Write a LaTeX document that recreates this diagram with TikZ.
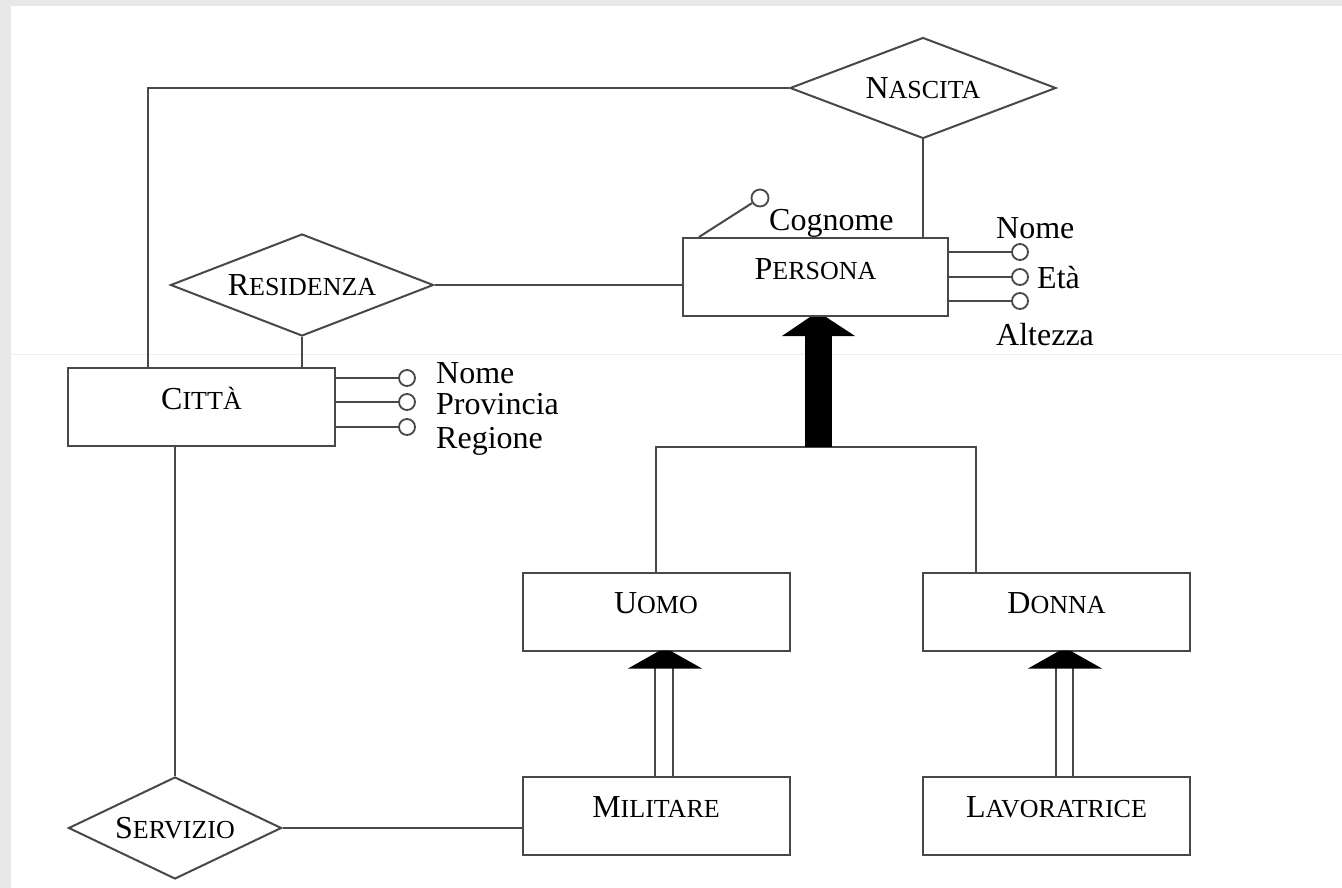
\documentclass[tikz,border=0pt]{standalone}
\usepackage{fontspec}
\setmainfont{Liberation Serif}
\usetikzlibrary{shapes.geometric,calc}
\definecolor{lc}{RGB}{72,72,72}
\definecolor{bggray}{RGB}{232,232,232}
\definecolor{seam}{RGB}{238,238,238}
\newcommand\fs{\fontsize{32}{36}\selectfont}
\newcommand\mysc[2]{{\fontsize{32}{32}\selectfont #1\fontsize{26}{26}\selectfont #2}}
\tikzset{
  ln/.style={draw=lc, line width=2pt},
  ent/.style={rectangle, draw=lc, line width=2pt, minimum width=267pt, minimum height=78pt,
              inner sep=0pt, text height=12pt, text depth=8pt, font=\fs},
  rel/.style={diamond, draw=lc, line width=2pt, aspect=2.6, inner sep=0pt, font=\fs},
  att/.style={circle, draw=lc, line width=1.8pt, minimum size=16pt, inner sep=0pt, fill=white},
  lbl/.style={inner sep=0pt, anchor=base west, font=\fs},
  isahead/.style={fill=black, draw=none},
}
\begin{document}
\begin{tikzpicture}[x=1pt, y=-1pt]
\useasboundingbox (0,0) rectangle (1342,888);
\fill[bggray] (0,0) rectangle (1342,888);
\fill[white] (11,6) rectangle (1342,888);
\draw[seam, line width=1pt] (11,354) -- (1342,354);

% entities
\node[ent] (citta) at (201.5,407) {\mysc{C}{ITTÀ}};
\node[ent, minimum width=265pt] (persona) at (815.5,277) {\mysc{P}{ERSONA}};
\node[ent] (uomo) at (656,611.5) {\mysc{U}{OMO}};
\node[ent] (donna) at (1056.5,611.5) {\mysc{D}{ONNA}};
\node[ent] (militare) at (656,815.5) {\mysc{M}{ILITARE}};
\node[ent] (lavoratrice) at (1056.5,815.5) {\mysc{L}{AVORATRICE}};

% relationships
\node[rel, minimum width=266pt, minimum height=101pt] (nascita) at (923,88) {\mysc{N}{ASCITA}};
\node[rel, minimum width=263pt, minimum height=102pt] (residenza) at (302,285) {\mysc{R}{ESIDENZA}};
\node[rel, minimum width=213pt, minimum height=102pt] (servizio) at (175,828) {\mysc{S}{ERVIZIO}};

% relationship connectors
\coordinate (nc) at (148,88);
\draw[ln] (nascita.west) -- (nc) -- (nc |- citta.north);
\draw[ln] (nascita.south) -- (nascita.south |- persona.north);
\draw[ln] (residenza.south) -- (residenza.south |- citta.north);
\draw[ln] (residenza.east) -- (residenza.east -| persona.west);
\coordinate (sc) at (175,446);
\draw[ln] (sc |- citta.south) -- (servizio.north);
\draw[ln] (servizio.east) -- (servizio.east -| militare.west);

% attributes of CITTA
\node[att] (ca1) at (407,378) {};
\node[att] (ca2) at (407,402) {};
\node[att] (ca3) at (407,427) {};
\draw[ln] (citta.east |- ca1) -- (ca1);
\draw[ln] (citta.east |- ca2) -- (ca2);
\draw[ln] (citta.east |- ca3) -- (ca3);
\node[lbl] (cl1) at (436,383) {Nome};
\node[lbl] (cl2) at (436,414) {Provincia};
\node[lbl] (cl3) at (436,448) {Regione};

% attributes of PERSONA
\node[att] (pa1) at (1020,252) {};
\node[att] (pa2) at (1020,277) {};
\node[att] (pa3) at (1020,301) {};
\draw[ln] (persona.east |- pa1) -- (pa1);
\draw[ln] (persona.east |- pa2) -- (pa2);
\draw[ln] (persona.east |- pa3) -- (pa3);
\node[lbl] (pl1) at (996,238) {Nome};
\node[lbl] (pl2) at (1037,288) {Età};
\node[lbl] (pl3) at (996,345) {Altezza};
\node[att, minimum size=17pt] (cog) at (760,198) {};
\draw[ln] ([xshift=17pt]persona.north west) -- (cog);
\node[lbl] (cogl) at (769,230) {Cognome};

% total generalization PERSONA -> UOMO / DONNA
\coordinate (isa) at (818,447);
\coordinate (isatip) at (818,317);
\coordinate (br) at (976,447);
\draw[ln] (uomo.north) |- (br) -- (br |- donna.north);
\fill ($(isa)+(-13.5,0)$) rectangle ($(isatip)+(13.5,19)$);
\fill[isahead] ($(isatip)+(-36,19)$) -- ($(isatip)+(-8,0)$) -- ($(isatip)+(8,0)$) -- ($(isatip)+(37,19)$) -- cycle;

% subset MILITARE -> UOMO
\coordinate (mtip) at (665,650.5);
\coordinate (m1) at (655,668);
\coordinate (m2) at (673,668);
\draw[ln] (m1 |- militare.north) -- (m1);
\draw[ln] (m2 |- militare.north) -- (m2);
\fill[isahead] ($(mtip)+(-37,18)$) -- ($(mtip)+(-5,0)$) -- ($(mtip)+(5,0)$) -- ($(mtip)+(37,18)$) -- cycle;

% subset LAVORATRICE -> DONNA
\coordinate (ltip) at (1065,650.5);
\coordinate (l1) at (1056,668);
\coordinate (l2) at (1073,668);
\draw[ln] (l1 |- lavoratrice.north) -- (l1);
\draw[ln] (l2 |- lavoratrice.north) -- (l2);
\fill[isahead] ($(ltip)+(-37,18)$) -- ($(ltip)+(-5,0)$) -- ($(ltip)+(5,0)$) -- ($(ltip)+(37,18)$) -- cycle;
\end{tikzpicture}
\end{document}
